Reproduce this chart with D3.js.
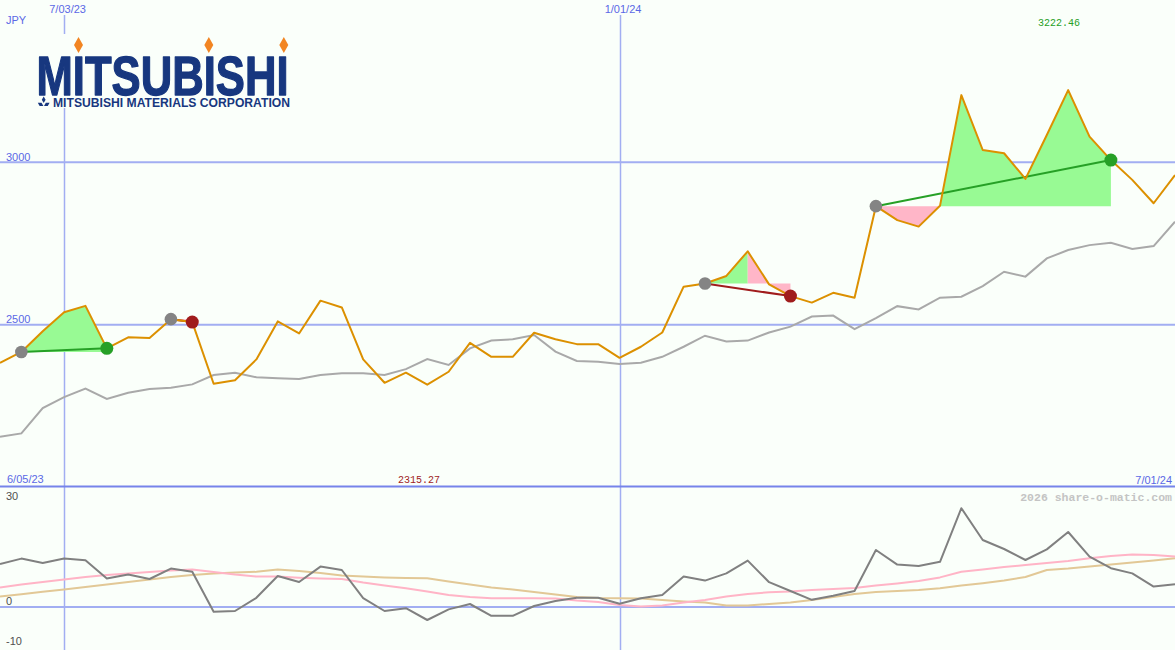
<!DOCTYPE html>
<html>
<head>
<meta charset="utf-8">
<script src="https://cdn.jsdelivr.net/npm/d3@7/dist/d3.min.js"></script>
<style>
  html, body { margin: 0; padding: 0; background: #fafffa; }
  svg { display: block; }
</style>
</head>
<body>
<svg id="chart" width="1175" height="650"></svg>
<script>
// ---------------- DATA ----------------
// weekly closes, index 0 = week of 12 Jun 2023, index 55 = week of 1 Jul 2024
const price = [2382, 2416, 2480, 2538, 2558, 2427, 2461, 2459, 2517, 2508,
  2318, 2329, 2393, 2510, 2473, 2574, 2553, 2393, 2321, 2352,
  2315.27, 2355, 2444, 2401, 2401, 2475, 2455, 2440, 2440, 2398,
  2432, 2476, 2617, 2627, 2650, 2726, 2624, 2588, 2568, 2598,
  2583, 2865, 2822, 2802, 2866, 3207, 3038, 3028, 2949, 3084,
  3222.46, 3079, 3007, 2946, 2874, 2961];
const movingAvg = [2155, 2165, 2243, 2277, 2303, 2271, 2290, 2302, 2306, 2316,
  2345, 2352, 2338, 2335, 2333, 2345, 2350, 2350, 2345, 2363,
  2394, 2376, 2427, 2451, 2455, 2468, 2417, 2388, 2386, 2379,
  2383, 2401, 2432, 2466, 2448, 2451, 2476, 2494, 2525, 2528,
  2486, 2520, 2557, 2547, 2583, 2586, 2619, 2663, 2648, 2704,
  2730, 2745, 2752, 2733, 2742, 2817];
const momentum = [10.75, 12.1, 11, 12.1, 11.7, 7.1, 8.1, 7, 9.6, 8.8,
  -1.2, -1, 2.3, 7.75, 6.25, 10.1, 9.25, 2.2, -1, -0.3,
  -3.25, -0.6, 0.75, -2.2, -2.2, 0.25, 1.5, 2.3, 2.3, 0.8,
  2.2, 3, 7.6, 6.6, 8.4, 11.6, 6.2, 4, 1.8, 2.8,
  4, 14.25, 10.6, 10.25, 11.3, 24.7, 16.75, 14.5, 11.75, 14.4,
  18.75, 12.6, 9.7, 8.4, 5.1, 5.7];
const signalFast = [4.9, 5.6, 6.25, 6.9, 7.5, 8, 8.4, 8.75, 9.1, 9.4,
  8.75, 8.1, 7.6, 7.6, 7.3, 7.1, 7, 6.1, 5.4, 4.7,
  3.9, 3, 2.5, 2.2, 2.2, 2.2, 2.1, 1.6, 1.25, 0.5,
  0.1, 0.4, 1.1, 1.75, 2.6, 3.25, 3.7, 3.9, 4.25, 4.5,
  4.75, 5.4, 5.9, 6.5, 7.4, 8.8, 9.4, 10, 10.5, 11,
  11.5, 12.2, 12.75, 13.1, 13, 12.6];
const signalSlow = [2.6, 3.2, 3.8, 4.4, 5, 5.6, 6.25, 6.9, 7.5, 8,
  8.4, 8.6, 8.8, 9.4, 9, 8.5, 7.9, 7.6, 7.4, 7.25,
  7.2, 6.4, 5.6, 4.9, 4.4, 3.75, 3.1, 2.5, 2.25, 2.2,
  2.1, 1.75, 1.4, 1.1, 0.4, 0.4, 0.75, 1.1, 1.75, 2.5,
  3.25, 3.75, 4, 4.25, 4.7, 5.4, 5.95, 6.6, 7.5, 9.25,
  9.6, 10.1, 10.6, 11.1, 11.6, 12.2];

// date labels (index of the week they mark)
const dateTickIdx = [3, 29];
const dateTickLabels = ["7/03/23", "1/01/24"];
const startLabel = "6/05/23";
const endLabel = "7/01/24";
const priceTicks = [2500, 3000];
const lowerTicks = [30, 0, -10];
const currency = "JPY";
const maxLabel = "3222.46";
const minLabel = "2315.27";

// trades: entry index, exit index, profitable?
const tradeStart = [1, 8, 33, 41];
const tradeEnd = [5, 9, 37, 52];
const tradeWin = [true, false, false, true];
// shaded bands: from, to, level index (entry), kind
const bandFrom = [1, 8, 33, 35, 41, 44];
const bandTo = [5, 9, 35, 37, 44, 52];
const bandLevel = [1, 8, 33, 33, 41, 41];
const bandKind = ["up", "down", "up", "down", "down", "up"];

// ---------------- CHART ----------------
const W = 1175, H = 650;
const svg = d3.select("#chart");
const BG = "#fafffa";
svg.append("rect").attr("width", W).attr("height", H).attr("fill", BG);

const x = d3.scaleLinear().domain([0, price.length - 1]).range([0, W]);
const y = d3.scaleLinear().domain([2000, 3500]).range([487, 0]);
const yL = d3.scaleLinear().domain([-10, 30]).range([647, 487]);

const gridC = "#a2aef2";
const labelC = "#5a68e6";
const sans = "'Liberation Sans', Arial, sans-serif";
const mono = "'Liberation Mono', 'DejaVu Sans Mono', monospace";

// vertical date grid lines
svg.selectAll("line.vgrid").data(dateTickIdx).join("line")
  .attr("x1", d => Math.round(x(d)) + 0.5).attr("x2", d => Math.round(x(d)) + 0.5)
  .attr("y1", 15).attr("y2", H)
  .attr("stroke", gridC).attr("stroke-width", 1.5);

// horizontal price grid
svg.selectAll("line.hgrid").data(priceTicks).join("line")
  .attr("x1", 0).attr("x2", W)
  .attr("y1", d => y(d)).attr("y2", d => y(d))
  .attr("stroke", gridC).attr("stroke-width", 2);

// lower zero line
svg.append("line").attr("x1", 0).attr("x2", W)
  .attr("y1", yL(0)).attr("y2", yL(0))
  .attr("stroke", gridC).attr("stroke-width", 2);

// panel separator
svg.append("line").attr("x1", 0).attr("x2", W)
  .attr("y1", 486.5).attr("y2", 486.5)
  .attr("stroke", "#7684ea").attr("stroke-width", 2);

// moving average
const idx = d3.range(price.length);
svg.append("path").datum(idx)
  .attr("d", d3.line().x(i => x(i)).y(i => y(movingAvg[i])))
  .attr("fill", "none").attr("stroke", "#a9a9a9").attr("stroke-width", 2);

// shaded trade bands
bandFrom.forEach((f, k) => {
  const lvl = price[bandLevel[k]];
  svg.append("path").datum(d3.range(f, bandTo[k] + 1))
    .attr("d", d3.area().x(i => x(i)).y0(y(lvl)).y1(i => y(price[i])))
    .attr("fill", bandKind[k] === "up" ? "#98fa94" : "#ffb6c8")
    .attr("stroke", "none");
});

// trade connecting lines
tradeStart.forEach((s, k) => {
  const e = tradeEnd[k];
  svg.append("line")
    .attr("x1", x(s)).attr("y1", y(price[s]))
    .attr("x2", x(e)).attr("y2", y(price[e]))
    .attr("stroke", tradeWin[k] ? "#26a026" : "#a01c1c").attr("stroke-width", 2);
});

// price line
svg.append("path").datum(idx)
  .attr("d", d3.line().x(i => x(i)).y(i => y(price[i])))
  .attr("fill", "none").attr("stroke", "#dc9000").attr("stroke-width", 2)
  .attr("stroke-linejoin", "round");

// trade markers
tradeStart.forEach((s, k) => {
  const e = tradeEnd[k];
  svg.append("circle").attr("cx", x(s)).attr("cy", y(price[s])).attr("r", 6.3)
    .attr("fill", "#848484");
  svg.append("circle").attr("cx", x(e)).attr("cy", y(price[e])).attr("r", 6.5)
    .attr("fill", tradeWin[k] ? "#26a026" : "#a01c1c");
});

// lower panel lines
const lowerSeries = [
  { data: signalSlow, color: "#e2c896" },
  { data: signalFast, color: "#ffb4c6" },
  { data: momentum, color: "#808080" }
];
lowerSeries.forEach(s => {
  svg.append("path").datum(idx)
    .attr("d", d3.line().x(i => x(i)).y(i => yL(s.data[i])))
    .attr("fill", "none").attr("stroke", s.color).attr("stroke-width", 2)
    .attr("stroke-linejoin", "round");
});

// ---------------- TEXT ----------------
function txt(t, px, py, opts = {}) {
  return svg.append("text").text(t).attr("x", px).attr("y", py)
    .attr("font-family", opts.family || sans)
    .attr("font-size", opts.size || 11)
    .attr("font-weight", opts.weight || "normal")
    .attr("fill", opts.color || labelC)
    .attr("text-anchor", opts.anchor || "start");
}
txt(currency, 6, 24);
dateTickIdx.forEach((d, k) => txt(dateTickLabels[k], x(d) + 3.5, 12.5, { anchor: "middle" }));
priceTicks.forEach(v => txt(String(v), 6, y(v) - 1.8));
txt(startLabel, 7, 483);
txt(endLabel, 1172, 483.5, { anchor: "end" });
txt(minLabel, 398, 483, { family: mono, size: 10, color: "#a01c1c" });
txt(maxLabel, 1038, 25.5, { family: mono, size: 10, color: "#26a026" });
txt("2026 share-o-matic.com", 1172, 500.5, { family: mono, size: 11.5, weight: "bold", color: "#c4c4c4", anchor: "end" });
lowerTicks.forEach(v => {
  const py = Math.max(500, Math.min(646, yL(v) - 2));
  txt(String(v), 6, py, { color: "#505050" });
});

// ---------------- LOGO ----------------
const logo = svg.append("g");
logo.append("rect").attr("x", 33).attr("y", 34).attr("width", 260).attr("height", 74).attr("fill", BG);
const navy = "#17377f";
logo.append("text").text("MITSUBISHI")
  .attr("x", 36.5).attr("y", 94.5)
  .attr("font-family", sans).attr("font-weight", "bold").attr("font-size", 55)
  .attr("textLength", 252).attr("lengthAdjust", "spacingAndGlyphs")
  .attr("fill", navy).attr("stroke", navy).attr("stroke-width", 1.3)
  .attr("stroke-linejoin", "round");
[78.5, 208.8, 283.8].forEach(cx => {
  logo.append("path")
    .attr("d", `M${cx},37 L${cx + 4.5},45 L${cx},53 L${cx - 4.5},45 Z`)
    .attr("fill", "#f28522");
});
logo.append("text").text("MITSUBISHI MATERIALS CORPORATION")
  .attr("x", 53).attr("y", 106.5)
  .attr("font-family", sans).attr("font-weight", "bold").attr("font-size", 13.5)
  .attr("textLength", 237).attr("lengthAdjust", "spacingAndGlyphs")
  .attr("fill", navy);
// three-diamond mark
const mk = (cx, cy, a) => {
  const r = 3.2, w = 1.9;
  const dx = Math.cos(a), dy = Math.sin(a);
  const px = -dy, py = dx;
  return `M${cx + dx * r},${cy + dy * r} L${cx + px * w},${cy + py * w} L${cx - dx * r},${cy - dy * r} L${cx - px * w},${cy - py * w} Z`;
};
logo.append("path").attr("d", mk(43.7, 99.8, Math.PI / 2)).attr("fill", navy);
logo.append("path").attr("d", mk(40.6, 104.4, Math.PI / 6 + Math.PI)).attr("fill", navy);
logo.append("path").attr("d", mk(46.8, 104.4, -Math.PI / 6)).attr("fill", navy);
</script>
</body>
</html>
